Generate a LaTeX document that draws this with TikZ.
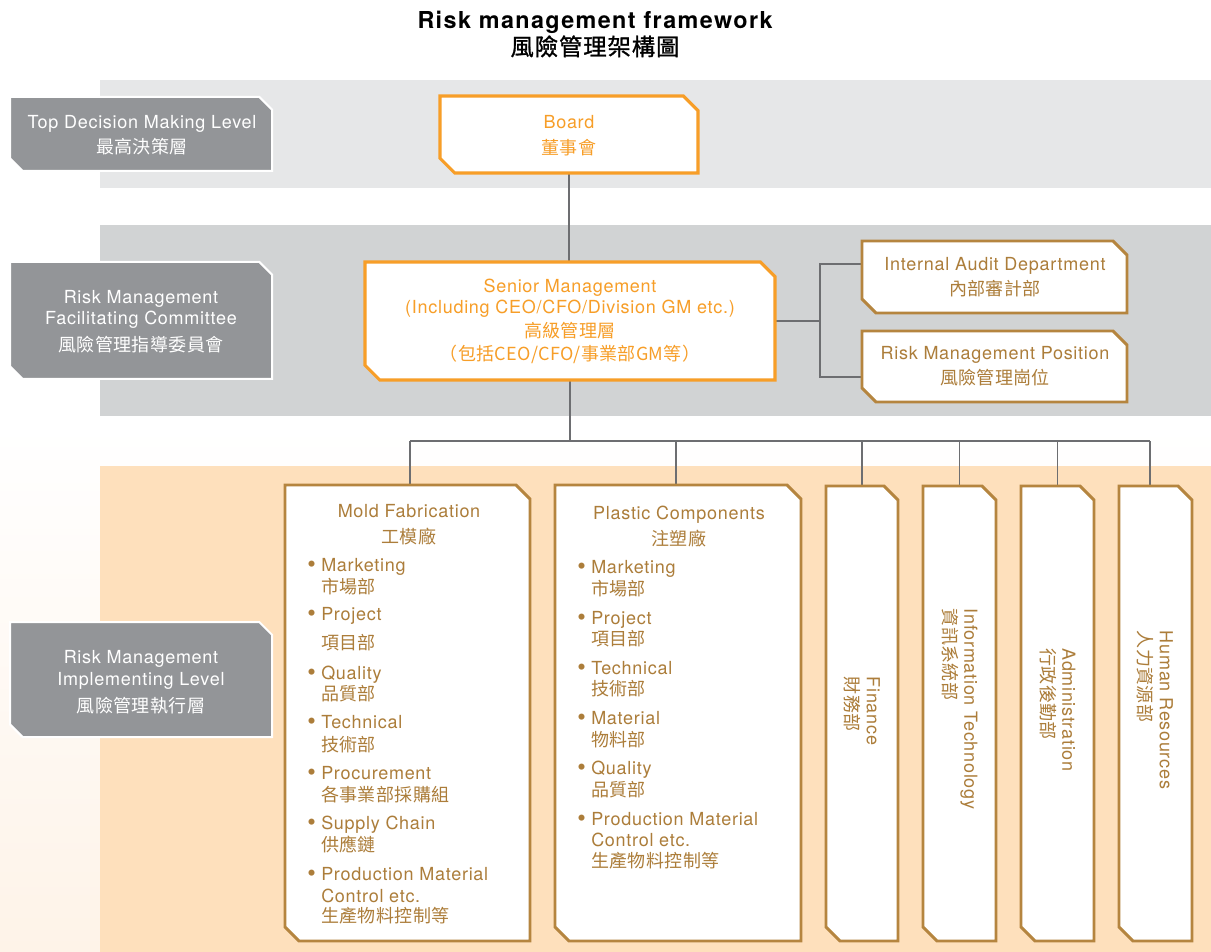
\documentclass[tikz,border=0pt]{standalone}
\usepackage{fontspec}
\setmainfont{TeX Gyre Heros}[LetterSpace=4]
\newfontfamily\titlefont{TeX Gyre Heros}[LetterSpace=6]
\newfontfamily\cjk{Noto Sans CJK TC}[LetterSpace=2]
\newfontfamily\cjktitle{Noto Sans CJK TC}[LetterSpace=4, FakeBold=1.2]
\definecolor{bandA}{RGB}{230,231,232}
\definecolor{bandB}{RGB}{209,211,212}
\definecolor{peach}{RGB}{254,224,188}
\definecolor{paleP}{RGB}{254,243,232}
\definecolor{labgray}{RGB}{147,149,152}
\definecolor{orng}{RGB}{247,158,40}
\definecolor{brwn}{RGB}{181,133,63}
\definecolor{brtxt}{RGB}{172,125,58}
\definecolor{connc}{RGB}{109,110,113}
% chamfered outline round a named node: #1 style, #2 node, #3 cut size
\newcommand\chamfbox[3]{%
  \path[#1] (#2.north west) -- ([xshift=-#3]#2.north east) -- ([yshift=-#3]#2.north east)
    -- (#2.south east) -- ([xshift=#3]#2.south west) -- ([yshift=#3]#2.south west) -- cycle;}
\begin{document}
\begin{tikzpicture}[x=0.75pt,y=-0.75pt,
  txt/.style={font=\fontsize{13.5}{16}\selectfont, inner sep=0pt, text height=9.7pt, text depth=0pt},
  cjkt/.style={txt, font=\cjk\fontsize{13.5}{16}\selectfont},
  ttl/.style={font=\titlefont\fontsize{17.5}{20}\selectfont\bfseries, inner sep=0pt, text height=12.5pt, text depth=0pt},
  boxn/.style={rectangle, draw=none, inner sep=0pt, outer sep=0pt},
  lab/.style={fill=labgray, draw=white, line width=1.5pt},
  obox/.style={fill=white, draw=orng, line width=2.3pt},
  bbox/.style={fill=white, draw=brwn, line width=2.2pt},
  conn/.style={draw=connc, line width=1.1pt},
  bul/.style={txt, text=brtxt, anchor=west,
    execute at begin node={\llap{\raisebox{-0.4pt}{\scalebox{1.35}{\textbullet}}\hspace{4pt}}}},
  bl/.style={txt, text=brtxt, anchor=west},
  bc/.style={cjkt, text=brtxt, anchor=west},
  vt/.style={rotate=-90, align=left, inner sep=0pt, text=brtxt, font=\fontsize{13.5}{16}\selectfont},
]
\useasboundingbox (0,0) rectangle (1211,952);
% backgrounds
\fill[white] (0,0) rectangle (1211,952);
\shade[top color=white, bottom color=paleP] (0,425) rectangle (1211,952);
\fill[bandA] (100,80) rectangle (1211,188);
\fill[bandB] (100,225) rectangle (1211,416);
\fill[peach] (100,466) rectangle (1211,952);

% title
\node[ttl] (t1) at (595,20) {Risk management framework};
\node[ttl, font=\cjktitle\fontsize{17.5}{20}\selectfont] (t2) at (595,47) {風險管理架構圖};

% box frames (named, invisible)
\node[boxn, minimum width=196.5pt, minimum height=55.5pt] (lab1) at (141,134) {};
\node[boxn, minimum width=196.5pt, minimum height=87.75pt] (lab2) at (141,320.5) {};
\node[boxn, minimum width=196.5pt, minimum height=86.25pt] (lab3) at (141,679.5) {};
\node[boxn, minimum width=193.5pt, minimum height=57.75pt] (board) at (569,134.5) {};
\node[boxn, minimum width=307.5pt, minimum height=88.5pt] (senior) at (570,321) {};
\node[boxn, minimum width=198.75pt, minimum height=54pt] (audit) at (994.5,277) {};
\node[boxn, minimum width=198.75pt, minimum height=53.25pt] (rmpos) at (994.5,366.5) {};
\node[boxn, minimum width=183.75pt, minimum height=342pt] (mold) at (407.5,713) {};
\node[boxn, minimum width=184.5pt, minimum height=342pt] (plastic) at (678,713) {};
\node[boxn, minimum width=54pt, minimum height=341.25pt] (fin) at (862,713.5) {};
\node[boxn, minimum width=54.75pt, minimum height=341.25pt] (it) at (959.5,713.5) {};
\node[boxn, minimum width=54.75pt, minimum height=341.25pt] (adm) at (1057.5,713.5) {};
\node[boxn, minimum width=54.75pt, minimum height=341.25pt] (hr) at (1155.5,713.5) {};

% connectors
\draw[conn] (board.south) -- (board.south |- senior.north);
\coordinate (jr) at (820,321);
\draw[conn] (senior.east) -- (jr);
\draw[conn] ([yshift=9.75pt]audit.west) -| (jr) |- ([yshift=-7.9pt]rmpos.west);
\coordinate (bus) at (570,441);
\draw[conn] (senior.south) -- (bus);
\foreach \n/\s in {mold/1.9pt, plastic/-1.5pt, fin/0pt, it/0pt, adm/0pt, hr/-4.1pt}{
  \coordinate (\n-top) at ([xshift=\s]\n.north);
  \draw[conn] (\n-top) -- (\n-top |- bus);
}
\draw[conn] (mold-top |- bus) -- (hr-top |- bus);

% chamfered shapes
\chamfbox{lab}{lab1}{9.5pt}
\chamfbox{lab}{lab2}{9.5pt}
\chamfbox{lab}{lab3}{9.5pt}
\chamfbox{obox}{board}{11pt}
\chamfbox{obox}{senior}{11pt}
\foreach \b in {audit,rmpos,mold,plastic,fin,it,adm,hr}{\chamfbox{bbox}{\b}{10.5pt}}

% level label texts
\node[txt, text=white] (l1a) at (142,122) {Top Decision Making Level};
\node[cjkt, text=white] (l1b) at (142,147) {最高決策層};
\node[txt, text=white] (l2a) at (141,297) {Risk Management};
\node[txt, text=white] (l2b) at (141,318) {Facilitating Committee};
\node[cjkt, text=white] (l2c) at (141,345) {風險管理指導委員會};
\node[txt, text=white] (l3a) at (141,657) {Risk Management};
\node[txt, text=white] (l3b) at (141,679) {Implementing Level};
\node[cjkt, text=white] (l3c) at (141,706) {風險管理執行層};

% box texts
\node[txt, text=orng] (bo1) at (569,122) {Board};
\node[cjkt, text=orng] (bo2) at (569,148) {董事會};
\node[txt, text=orng] (se1) at (570,286) {Senior Management};
\node[txt, text=orng] (se2) at (570,307) {(Including CEO/CFO/Division GM etc.)};
\node[cjkt, text=orng] (se3) at (570,331) {高級管理層};
\node[cjkt, text=orng] (se4) at (570,354) {（包括CEO/CFO/事業部GM等）};
\node[txt, text=brtxt] (au1) at (995,264) {Internal Audit Department};
\node[cjkt, text=brtxt] (au2) at (995,289) {內部審計部};
\node[txt, text=brtxt] (rp1) at (995,353) {Risk Management Position};
\node[cjkt, text=brtxt] (rp2) at (995,378) {風險管理崗位};

% Mold Fabrication
\node[txt, text=brtxt] (mt1) at (409,511) {Mold Fabrication};
\node[cjkt, text=brtxt] (mt2) at (409,537) {工模廠};
\foreach \yy/\tx [count=\i] in {565/Marketing, 614/Project, 673/Quality, 722/Technical, 773/Procurement, 823/Supply Chain, 874/Production Material}
  \node[bul] (me\i) at (321,\yy) {\tx};
\foreach \yy/\tx [count=\i] in {587/市場部, 643/項目部, 694/品質部, 745/技術部, 795/各事業部採購組, 845/供應鏈, 916/生產物料控制等}
  \node[bc] (mc\i) at (321,\yy) {\tx};
\node[bl] (mctl) at (321,896) {Control etc.};

% Plastic Components
\node[txt, text=brtxt] (pt1) at (679,513) {Plastic Components};
\node[cjkt, text=brtxt] (pt2) at (679,539) {注塑廠};
\foreach \yy/\tx [count=\i] in {567/Marketing, 618/Project, 668/Technical, 718/Material, 768/Quality, 819/Production Material}
  \node[bul] (pe\i) at (591,\yy) {\tx};
\foreach \yy/\tx [count=\i] in {589/市場部, 639/項目部, 689/技術部, 740/物料部, 790/品質部, 861/生產物料控制等}
  \node[bc] (pc\i) at (591,\yy) {\tx};
\node[bl] (pctl) at (591,840) {Control etc.};

% vertical texts
\node[vt] (fint) at (862,711) {Finance\\{\cjk 財務部}};
\node[vt] (itt) at (959.5,709) {Information Technology\\{\cjk 資訊系統部}};
\node[vt] (admt) at (1057.5,710) {Administration\\{\cjk 行政後勤部}};
\node[vt] (hrt) at (1155,710) {Human Resources\\{\cjk 人力資源部}};
\end{tikzpicture}
\end{document}
